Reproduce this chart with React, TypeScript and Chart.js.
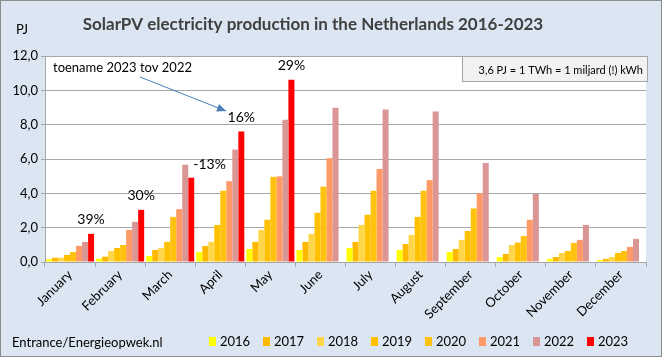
import React, { useEffect, useRef } from 'react';
import { Chart, registerables } from 'chart.js';

Chart.register(...registerables);

const months = ['January', 'February', 'March', 'April', 'May', 'June', 'July', 'August', 'September', 'October', 'November', 'December'];
const years = ['2016', '2017', '2018', '2019', '2020', '2021', '2022', '2023'];

const v2016 = [0.16, 0.19, 0.35, 0.58, 0.76, 0.70, 0.82, 0.70, 0.58, 0.29, 0.18, 0.12];
const v2017 = [0.25, 0.31, 0.70, 0.94, 1.17, 1.17, 1.17, 1.05, 0.76, 0.47, 0.29, 0.18];
const v2018 = [0.25, 0.64, 0.82, 1.18, 1.87, 1.64, 2.16, 1.58, 1.29, 0.99, 0.53, 0.29];
const v2019 = [0.41, 0.82, 1.17, 2.16, 2.46, 2.87, 2.75, 2.63, 1.81, 1.13, 0.64, 0.53];
const v2020 = [0.58, 0.99, 2.63, 4.15, 4.96, 4.39, 4.15, 4.15, 3.12, 1.52, 1.11, 0.64];
const v2021 = [0.94, 1.87, 3.08, 4.71, 4.99, 6.05, 5.42, 4.77, 4.00, 2.46, 1.29, 0.88];
const v2022 = [1.17, 2.34, 5.67, 6.55, 8.28, 8.98, 8.89, 8.77, 5.77, 3.97, 2.16, 1.35];
const v2023 = [1.64, 3.04, 4.91, 7.60, 10.62, null, null, null, null, null, null, null];

const pctLabels = ['39%', '30%', '-13%', '16%', '29%'];

const yearColors = ['#FFFF00', '#FFB800', '#FFD54A', '#FFC000', '#FFC20E', '#FF9966', '#D99694', '#FF0000'];

const titleText = 'SolarPV electricity production in the Netherlands 2016-2023';
const unitText = 'PJ';
const noteText = 'toename 2023 tov 2022';
const boxText = '3,6 PJ = 1 TWh = 1 miljard (!) kWh';
const sourceText = 'Entrance/Energieopwek.nl';

const FONT = 'Lato, "Open Sans", "Liberation Sans", sans-serif';

const series = [v2016, v2017, v2018, v2019, v2020, v2021, v2022, v2023];

const decorPlugin = {
  id: 'decor',
  beforeDraw(chart: any) {
    const { ctx, chartArea } = chart;
    ctx.save();
    ctx.fillStyle = '#DCE6F2';
    ctx.fillRect(0, 0, chart.width, chart.height);
    ctx.fillStyle = '#FFFFFF';
    ctx.fillRect(chartArea.left, chartArea.top, chartArea.right - chartArea.left, chartArea.bottom - chartArea.top);
    ctx.restore();
  },
  afterDraw(chart: any) {
    const { ctx } = chart;
    ctx.save();
    // outer border
    ctx.strokeStyle = '#8C8C8C';
    ctx.lineWidth = 1;
    ctx.strokeRect(0.5, 0.5, chart.width - 1, chart.height - 1);

    // title
    ctx.fillStyle = '#404040';
    ctx.font = `bold 17px ${FONT}`;
    ctx.textAlign = 'center';
    ctx.textBaseline = 'middle';
    ctx.fillText(titleText, 313, 25);

    // unit
    ctx.fillStyle = '#000';
    ctx.font = `13px ${FONT}`;
    ctx.fillText(unitText, 22, 30);

    // note + arrow
    ctx.textAlign = 'left';
    ctx.font = `13px ${FONT}`;
    ctx.fillText(noteText, 53, 68);
    const x1 = 140, y1 = 77, x2 = 226, y2 = 111;
    ctx.strokeStyle = '#4A7EBB';
    ctx.fillStyle = '#4A7EBB';
    ctx.lineWidth = 1;
    ctx.beginPath();
    ctx.moveTo(x1, y1);
    ctx.lineTo(x2, y2);
    ctx.stroke();
    const ang = Math.atan2(y2 - y1, x2 - x1);
    ctx.beginPath();
    ctx.moveTo(x2, y2);
    ctx.lineTo(x2 - 9 * Math.cos(ang) + 4 * Math.sin(ang), y2 - 9 * Math.sin(ang) - 4 * Math.cos(ang));
    ctx.lineTo(x2 - 9 * Math.cos(ang) - 4 * Math.sin(ang), y2 - 9 * Math.sin(ang) + 4 * Math.cos(ang));
    ctx.closePath();
    ctx.fill();

    // info box
    ctx.fillStyle = '#F2F2F2';
    ctx.fillRect(462.5, 56.5, 185, 25);
    ctx.strokeStyle = '#A6A6A6';
    ctx.strokeRect(462.5, 56.5, 185, 25);
    ctx.fillStyle = '#000';
    ctx.font = `11px ${FONT}`;
    ctx.textAlign = 'right';
    ctx.fillText(boxText, 643, 70);

    // percentage labels
    const meta23 = chart.getDatasetMeta(7);
    const meta22 = chart.getDatasetMeta(6);
    ctx.font = `14px ${FONT}`;
    ctx.fillStyle = '#000';
    pctLabels.forEach((lab, i) => {
      const bar = meta23.data[i];
      if (!bar) return;
      if (lab.startsWith('-')) {
        ctx.textAlign = 'left';
        ctx.fillText(lab, bar.x + bar.width / 2 - 1, meta22.data[i].y);
      } else {
        ctx.textAlign = 'center';
        ctx.fillText(lab, bar.x, bar.y - 14);
      }
    });

    // legend
    ctx.font = `13px ${FONT}`;
    ctx.textAlign = 'left';
    chart.data.datasets.forEach((ds: any, i: number) => {
      const bx = 209 + i * 54;
      ctx.fillStyle = ds.backgroundColor;
      ctx.fillRect(bx, 337, 7, 9);
      ctx.fillStyle = '#000';
      ctx.fillText(ds.label, bx + 11, 342);
    });

    // source
    ctx.fillStyle = '#000';
    ctx.font = `13px ${FONT}`;
    ctx.fillText(sourceText, 12, 343);
    ctx.restore();
  },
};

export default function App() {
  const ref = useRef<HTMLCanvasElement>(null);
  useEffect(() => {
    document.body.style.margin = '0';
    const canvas = ref.current!;
    const chart = new Chart(canvas, {
      type: 'bar',
      data: {
        labels: months,
        datasets: years.map((y, i) => ({
          label: y,
          data: series[i],
          backgroundColor: yearColors[i],
          borderWidth: 0,
          barPercentage: 1,
          categoryPercentage: 0.96,
        })),
      },
      options: {
        responsive: false,
        animation: false,
        layout: { padding: { left: 0, top: 56, right: 16, bottom: 0 } },
        plugins: { legend: { display: false }, tooltip: { enabled: false }, title: { display: false } },
        scales: {
          x: {
            afterFit: (s: any) => { s.height = 95; },
            grid: { offset: true, drawOnChartArea: false, tickLength: 5, color: '#A6A6A6' },
            border: { color: '#A6A6A6' },
            ticks: { maxRotation: 45, minRotation: 45, padding: 0, color: '#000', font: { family: FONT, size: 13 } },
          },
          y: {
            min: 0,
            max: 12,
            afterFit: (s: any) => { s.width = 45; },
            grid: { color: '#A6A6A6', tickLength: 4 },
            border: { color: '#A6A6A6' },
            ticks: {
              stepSize: 2,
              padding: 3,
              color: '#000',
              font: { family: FONT, size: 13 },
              callback: (v: any) => Number(v).toFixed(1).replace('.', ','),
            },
          },
        },
      },
      plugins: [decorPlugin],
    });
    return () => chart.destroy();
  }, []);
  return <canvas ref={ref} width={662} height={357} style={{ display: 'block', width: 662, height: 357 }} />;
}
